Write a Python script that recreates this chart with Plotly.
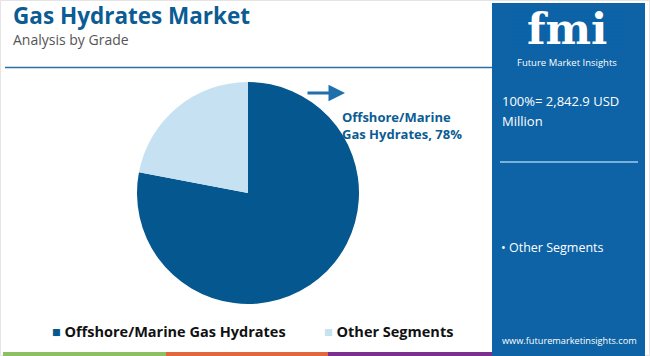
import plotly.graph_objects as go

# ---- data ----
segments = ["Offshore/Marine Gas Hydrates", "Other Segments"]
shares = [78, 22]
slice_colors = ["#05578f", "#c5e1f2"]
title_text = "Gas Hydrates Market"
subtitle_text = "Analysis by Grade"
callout_text = "Offshore/Marine<br>Gas Hydrates, 78%"
total_lines = ["100%= 2,842.9 USD", "Million"]
side_item = "• Other Segments"
site_text = "www.futuremarketinsights.com"

W, H = 650, 356
def px(x): return x / W
def py(y): return 1 - y / H

PANEL = "#0d63a6"
TITLE_C = "#0b5c93"

fig = go.Figure()
fig.add_trace(go.Pie(
    labels=segments, values=shares, sort=False, direction="clockwise",
    rotation=0, marker=dict(colors=slice_colors, line=dict(width=0)),
    textinfo="none", hoverinfo="label+percent",
    domain=dict(x=[px(137), px(359)], y=[py(304), py(82)]),
    showlegend=False,
))

shapes = []
# outer light border
shapes.append(dict(type="rect", xref="paper", yref="paper", x0=px(0.5), x1=px(649.5), y0=py(355.5), y1=py(0.5),
                   line=dict(color="#e4e4e4", width=1), fillcolor="rgba(0,0,0,0)", layer="below"))
# header rule
shapes.append(dict(type="line", xref="paper", yref="paper", x0=px(5), x1=px(492), y0=py(67.5), y1=py(67.5),
                   line=dict(color="#2f6f9f", width=1.5)))
# right panel
shapes.append(dict(type="rect", xref="paper", yref="paper", x0=px(492), x1=px(645), y0=py(356), y1=py(3),
                   line=dict(width=0), fillcolor=PANEL, layer="below"))
# panel divider
shapes.append(dict(type="line", xref="paper", yref="paper", x0=px(500), x1=px(638), y0=py(162), y1=py(162),
                   line=dict(color="#9ccbea", width=1.5)))
# bottom color strip
for x0, x1, c in [(3, 166, "#8dc063"), (166, 328, "#e2673f"), (328, 492, "#7b2f8f")]:
    shapes.append(dict(type="rect", xref="paper", yref="paper", x0=px(x0), x1=px(x1), y0=py(356), y1=py(352),
                       line=dict(width=0), fillcolor=c))

annotations = [
    dict(text=title_text, x=px(11), y=py(15), xref="paper", yref="paper", xanchor="left", yanchor="middle",
         showarrow=False, font=dict(family="Open Sans", size=22.5, color=TITLE_C, weight="bold")),
    dict(text=subtitle_text, x=px(11), y=py(39), xref="paper", yref="paper", xanchor="left", yanchor="middle",
         showarrow=False, font=dict(family="Open Sans", size=14, color="#555555")),
    dict(text=callout_text, x=px(340), y=py(125), xref="paper", yref="paper", xanchor="left", yanchor="middle",
         align="left", showarrow=False, font=dict(family="Open Sans", size=13, color=TITLE_C, weight="bold")),
    # arrow
    dict(text="", x=px(345), y=py(93), ax=-39, ay=0, xref="paper", yref="paper",
         axref="pixel", ayref="pixel", showarrow=True, arrowhead=2, arrowsize=1.1, arrowwidth=3,
         arrowcolor="#1f6fad"),
    # logo
    dict(text="fmi", x=px(567), y=py(29), xref="paper", yref="paper", xanchor="center", yanchor="middle",
         showarrow=False, font=dict(family="DejaVu Serif", size=43, color="white", weight="bold")),
    dict(text="Future Market Insights", x=px(567), y=py(63), xref="paper", yref="paper", xanchor="center",
         yanchor="middle", showarrow=False, font=dict(family="Open Sans", size=9.5, color="white")),
    dict(text=total_lines[0], x=px(500), y=py(101), xref="paper", yref="paper", xanchor="left", yanchor="middle",
         showarrow=False, font=dict(family="Open Sans", size=13, color="white")),
    dict(text=total_lines[1], x=px(500), y=py(121), xref="paper", yref="paper", xanchor="left", yanchor="middle",
         showarrow=False, font=dict(family="Open Sans", size=13, color="white")),
    dict(text=side_item, x=px(499), y=py(247), xref="paper", yref="paper", xanchor="left", yanchor="middle",
         showarrow=False, font=dict(family="Open Sans", size=12.5, color="white")),
    dict(text=site_text, x=px(569), y=py(340), xref="paper", yref="paper", xanchor="center", yanchor="middle",
         showarrow=False, font=dict(family="Open Sans", size=9.2, color="white")),
]

# legend drawn as text with coloured squares
legend_x = [50, 322]
for lx, name, col in zip(legend_x, segments, slice_colors):
    annotations.append(dict(
        text=f"<span style='color:{col}'>■</span> {name}", x=px(lx), y=py(331), xref="paper", yref="paper",
        xanchor="left", yanchor="middle", showarrow=False,
        font=dict(family="Open Sans", size=14.5, color="#111111", weight="bold")))

# stripes over the logo
for yy in range(12, 52, 4):
    shapes.append(dict(type="line", xref="paper", yref="paper", x0=px(510), x1=px(625), y0=py(yy), y1=py(yy),
                       line=dict(color=PANEL, width=1)))

fig.update_layout(
    width=W, height=H, margin=dict(l=0, r=0, t=0, b=0),
    paper_bgcolor="white", plot_bgcolor="white",
    shapes=shapes, annotations=annotations, showlegend=False,
)

fig.write_html("out.html")
